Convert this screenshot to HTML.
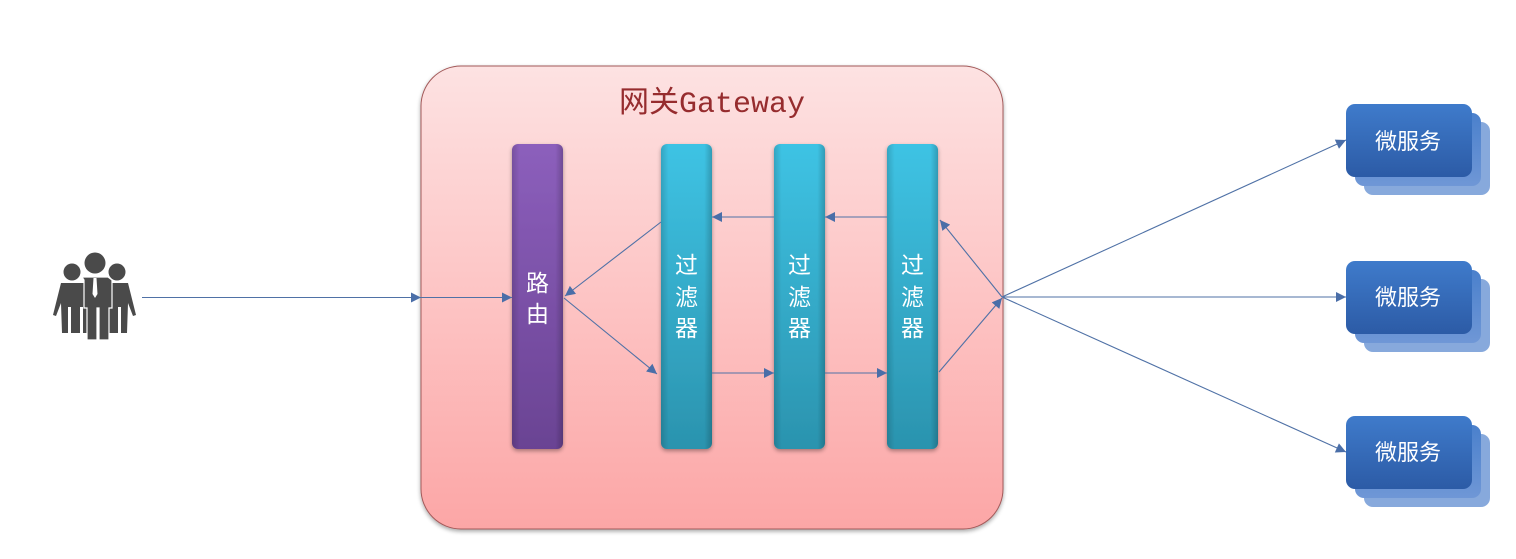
<!DOCTYPE html>
<html>
<head>
<meta charset="utf-8">
<style>
html,body{margin:0;padding:0;background:#fff;}
svg{display:block;}
text{font-family:"Liberation Sans","Noto Sans CJK SC",sans-serif;}
</style>
</head>
<body>
<svg width="1516" height="559" viewBox="0 0 1516 559" xmlns="http://www.w3.org/2000/svg">
<defs>
  <linearGradient id="gw" x1="0" y1="0" x2="0" y2="1">
    <stop offset="0" stop-color="#fde2e2"/>
    <stop offset="0.5" stop-color="#fdc4c4"/>
    <stop offset="1" stop-color="#fca6a6"/>
  </linearGradient>
  <linearGradient id="pu" x1="0" y1="0" x2="0" y2="1">
    <stop offset="0" stop-color="#8c5fbc"/>
    <stop offset="1" stop-color="#6a4393"/>
  </linearGradient>
  <linearGradient id="pu2" x1="0" y1="0" x2="1" y2="0">
    <stop offset="0" stop-color="#000" stop-opacity="0.15"/>
    <stop offset="0.15" stop-color="#000" stop-opacity="0"/>
    <stop offset="0.85" stop-color="#000" stop-opacity="0"/>
    <stop offset="1" stop-color="#000" stop-opacity="0.2"/>
  </linearGradient>
  <linearGradient id="cy" x1="0" y1="0" x2="0" y2="1">
    <stop offset="0" stop-color="#3ec3e4"/>
    <stop offset="1" stop-color="#2b93ae"/>
  </linearGradient>
  <linearGradient id="bl" x1="0" y1="0" x2="0" y2="1">
    <stop offset="0" stop-color="#3f7bcb"/>
    <stop offset="1" stop-color="#2c5ba6"/>
  </linearGradient>
  <linearGradient id="bl2" x1="0" y1="0" x2="0" y2="1">
    <stop offset="0" stop-color="#4a80cc"/>
    <stop offset="1" stop-color="#6f97d6"/>
  </linearGradient>
  <marker id="ah" viewBox="0 0 10 10" refX="10" refY="5" markerWidth="12" markerHeight="10" markerUnits="userSpaceOnUse" orient="auto">
    <path d="M0,0 L10,5 L0,10 z" fill="#4a6ea8"/>
  </marker>
  <filter id="sh" x="-20%" y="-10%" width="140%" height="130%">
    <feGaussianBlur in="SourceAlpha" stdDeviation="2"/>
    <feOffset dx="0" dy="2" result="b"/>
    <feComponentTransfer><feFuncA type="linear" slope="0.35"/></feComponentTransfer>
    <feMerge><feMergeNode/><feMergeNode in="SourceGraphic"/></feMerge>
  </filter>
</defs>

<!-- Gateway box -->
<rect x="421" y="66" width="582" height="463" rx="40" ry="40" fill="url(#gw)" stroke="#a35a5a" stroke-width="1" filter="url(#sh)"/>
<text x="712" y="112" text-anchor="middle" font-size="30" fill="#962c2e" style="font-family:'Liberation Mono','Noto Sans CJK SC',monospace;">网关Gateway</text>

<!-- Router -->
<g filter="url(#sh)">
  <rect x="512" y="144" width="51" height="305" rx="6" fill="url(#pu)"/>
  <rect x="512" y="144" width="51" height="305" rx="6" fill="url(#pu2)"/>
</g>
<text x="537.5" y="291" text-anchor="middle" font-size="23" fill="#fff">路</text>
<text x="537.5" y="322" text-anchor="middle" font-size="23" fill="#fff">由</text>

<!-- Filters -->
<g filter="url(#sh)">
  <rect x="661" y="144" width="51" height="305" rx="6" fill="url(#cy)"/>
  <rect x="661" y="144" width="51" height="305" rx="6" fill="url(#pu2)"/>
  <rect x="774" y="144" width="51" height="305" rx="6" fill="url(#cy)"/>
  <rect x="774" y="144" width="51" height="305" rx="6" fill="url(#pu2)"/>
  <rect x="887" y="144" width="51" height="305" rx="6" fill="url(#cy)"/>
  <rect x="887" y="144" width="51" height="305" rx="6" fill="url(#pu2)"/>
</g>
<g font-size="23" fill="#fff" text-anchor="middle">
  <text x="686.5" y="273">过</text><text x="686.5" y="305">滤</text><text x="686.5" y="336">器</text>
  <text x="799.5" y="273">过</text><text x="799.5" y="305">滤</text><text x="799.5" y="336">器</text>
  <text x="912.5" y="273">过</text><text x="912.5" y="305">滤</text><text x="912.5" y="336">器</text>
</g>

<!-- Connectors -->
<g stroke="#4f71a6" stroke-width="1.1" fill="none" marker-end="url(#ah)">
  <line x1="142" y1="297.5" x2="421" y2="297.5"/>
  <line x1="421" y1="297.5" x2="512" y2="297.5"/>
  <line x1="661" y1="222" x2="565" y2="296"/>
  <line x1="564" y1="298" x2="657" y2="374"/>
  <line x1="712" y1="373" x2="774" y2="373"/>
  <line x1="825" y1="373" x2="887" y2="373"/>
  <line x1="887" y1="217" x2="825" y2="217"/>
  <line x1="774" y1="217" x2="712" y2="217"/>
  <line x1="939" y1="372" x2="1002" y2="298"/>
  <line x1="1002" y1="297" x2="940" y2="220"/>
  <line x1="1002" y1="297" x2="1346" y2="140"/>
  <line x1="1002" y1="297" x2="1346" y2="297"/>
  <line x1="1002" y1="297" x2="1346" y2="452"/>
</g>

<!-- People icon -->
<g fill="#4a4a4a">
  <circle cx="72" cy="272" r="8.5"/>
  <circle cx="117" cy="272" r="8.5"/>
  <path d="M61,283 h25 l4,16 v34 h-7 v-26 h-3 v26 h-9 v-26 h-3 v26 h-6 l-1,-30 l-5,13 l-3,-1 z"/>
  <path d="M128,283 h-25 l-4,16 v34 h7 v-26 h3 v26 h9 v-26 h3 v26 h6 l1,-30 l5,13 l3,-1 z"/>
  <circle cx="95" cy="263" r="10.5"/>
  <path d="M82,277 h26 l4,3 v28 h-3 v32 h-10 v-32 h-2 v32 h-10 v-32 h-3 v-28 z" stroke="#fff" stroke-width="1.2"/>
  <path d="M93.5,278 h3 l1,16 l-2.5,4 l-2.5,-4 z" fill="#fff"/>
</g>

<!-- Microservices -->
<g>
  <g transform="translate(0,104)">
    <rect x="1364" y="18" width="126" height="73" rx="9" fill="#7aa0d8" opacity="0.9"/>
    <rect x="1355" y="9" width="126" height="73" rx="9" fill="url(#bl2)"/>
    <rect x="1346" y="0" width="126" height="73" rx="9" fill="url(#bl)"/>
    <text x="1408" y="45" text-anchor="middle" font-size="22" fill="#fff">微服务</text>
  </g>
  <g transform="translate(0,261)">
    <rect x="1364" y="18" width="126" height="73" rx="9" fill="#7aa0d8" opacity="0.9"/>
    <rect x="1355" y="9" width="126" height="73" rx="9" fill="url(#bl2)"/>
    <rect x="1346" y="0" width="126" height="73" rx="9" fill="url(#bl)"/>
    <text x="1408" y="44" text-anchor="middle" font-size="22" fill="#fff">微服务</text>
  </g>
  <g transform="translate(0,416)">
    <rect x="1364" y="18" width="126" height="73" rx="9" fill="#7aa0d8" opacity="0.9"/>
    <rect x="1355" y="9" width="126" height="73" rx="9" fill="url(#bl2)"/>
    <rect x="1346" y="0" width="126" height="73" rx="9" fill="url(#bl)"/>
    <text x="1408" y="44" text-anchor="middle" font-size="22" fill="#fff">微服务</text>
  </g>
</g>
</svg>
</body>
</html>
